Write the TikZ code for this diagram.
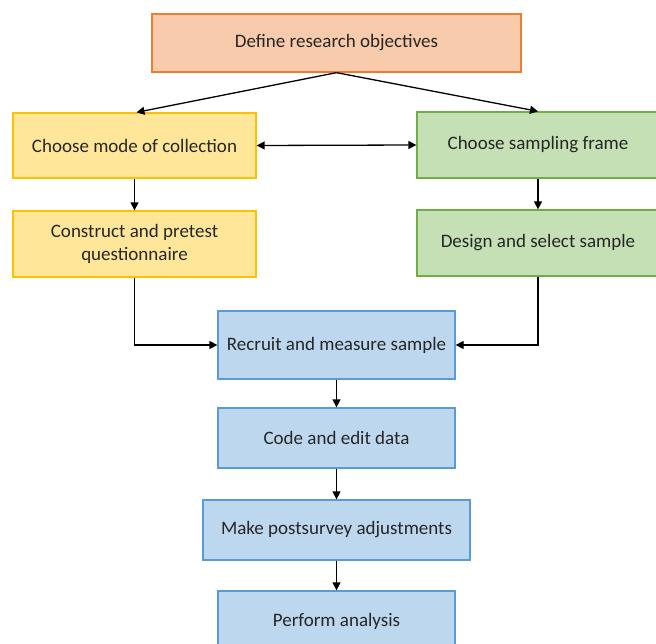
\documentclass[tikz,border=0pt]{standalone}
\usepackage{fontspec}
\setmainfont{Carlito}
\usetikzlibrary{arrows.meta}
\definecolor{orangefill}{HTML}{F8CBAD}
\definecolor{orangeline}{HTML}{ED7D31}
\definecolor{yellowfill}{HTML}{FFE699}
\definecolor{yellowline}{HTML}{FFC000}
\definecolor{greenfill}{HTML}{C5E0B4}
\definecolor{greenline}{HTML}{70AD47}
\definecolor{bluefill}{HTML}{BDD7EE}
\definecolor{blueline}{HTML}{5B9BD5}
\tikzset{
  box/.style={rectangle, line width=1.3pt, align=center, inner sep=0pt,
    font=\fontsize{19}{22.5}\selectfont, text=black!85},
  orangebox/.style={box, fill=orangefill, draw=orangeline},
  yellowbox/.style={box, fill=yellowfill, draw=yellowline},
  greenbox/.style={box, fill=greenfill, draw=greenline},
  bluebox/.style={box, fill=bluefill, draw=blueline},
  flow/.style={line width=1.3pt, -{Triangle[length=8pt,width=8pt]}},
  twoway/.style={line width=1.3pt, {Triangle[length=8pt,width=8pt]}-{Triangle[length=8pt,width=8pt]}}
}
\begin{document}
\begin{tikzpicture}[x=1pt,y=-1pt]
  \useasboundingbox (0,0) rectangle (656,644);
  \clip (0,0) rectangle (656,644);
  % steps
  \node[orangebox, minimum width=369pt, minimum height=58pt] (objectives) at (336.5,43) {Define research objectives};
  \node[yellowbox, minimum width=243pt, minimum height=65pt] (mode) at (134.5,145.5) {Choose mode of collection};
  \node[yellowbox, minimum width=243pt, minimum height=66pt] (quest) at (134.5,244) {Construct and pretest\\questionnaire};
  \node[greenbox, minimum width=242pt, minimum height=66pt] (frame) at (538,145) {Choose sampling frame};
  \node[greenbox, minimum width=242pt, minimum height=66pt] (design) at (538,243) {Design and select sample};
  \node[bluebox, minimum width=237pt, minimum height=68pt] (recruit) at (336.5,345) {Recruit and measure sample};
  \node[bluebox, minimum width=237pt, minimum height=60pt] (code) at (336.5,438) {Code and edit data};
  \node[bluebox, minimum width=267pt, minimum height=60pt] (adjust) at (336.5,530) {Make postsurvey adjustments};
  \node[bluebox, minimum width=237pt, minimum height=60pt] (analysis) at (336.5,621) {Perform analysis};
  % connectors
  \draw[flow] (objectives.south) -- ([xshift=2pt]mode.north);
  \draw[flow] (objectives.south) -- (frame.north);
  \draw[twoway] (mode.east) -- (frame.west);
  \draw[flow] (mode) -- (quest);
  \draw[flow] (frame) -- (design);
  \draw[flow] (quest.south) |- (recruit.west);
  \draw[flow] (design.south) |- (recruit.east);
  \draw[flow] (recruit) -- (code);
  \draw[flow] (code) -- (adjust);
  \draw[flow] (adjust) -- (analysis);
\end{tikzpicture}
\end{document}
